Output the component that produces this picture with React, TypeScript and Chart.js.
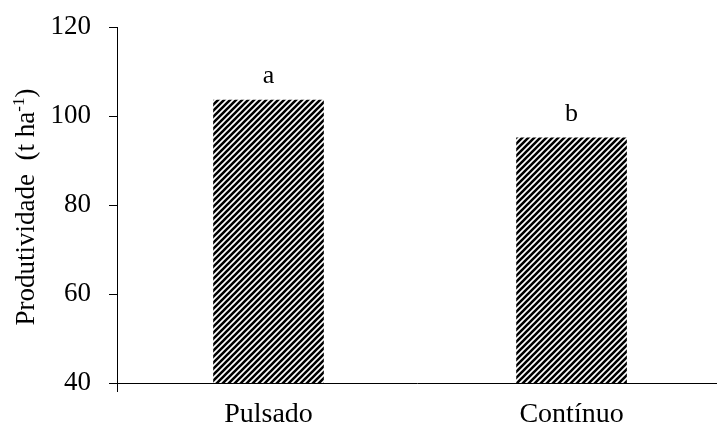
import React, { useEffect, useRef } from "react";
import { Chart, registerables } from "chart.js";

Chart.register(...registerables);

const categories = ["Pulsado", "Contínuo"];
const values = [103.6, 95.1];
const letters = ["a", "b"];
const yMin = 40;
const yMax = 120;
const yStep = 20;
const yTitleMain = "Produtividade  (t ha";
const yTitleSup = "-1";
const yTitleEnd = ")";

const FONT = "'Liberation Serif', 'Times New Roman', serif";

function makePattern(): CanvasPattern | string {
  const s = 6;
  const c = document.createElement("canvas");
  c.width = s;
  c.height = s;
  const ctx = c.getContext("2d");
  if (!ctx) return "#000";
  ctx.fillStyle = "#fff";
  ctx.fillRect(0, 0, s, s);
  ctx.strokeStyle = "#000";
  ctx.lineWidth = 2.6;
  ctx.beginPath();
  ctx.moveTo(0, s);
  ctx.lineTo(s, 0);
  ctx.moveTo(-s / 2, s / 2);
  ctx.lineTo(s / 2, -s / 2);
  ctx.moveTo(s / 2, s + s / 2);
  ctx.lineTo(s + s / 2, s / 2);
  ctx.stroke();
  const p = ctx.createPattern(c, "repeat");
  return p || "#000";
}

export default function App() {
  const ref = useRef<HTMLCanvasElement | null>(null);

  useEffect(() => {
    if (!ref.current) return;
    const pattern = makePattern();

    const extras = {
      id: "extras",
      afterDraw(chart: any) {
        const { ctx, chartArea } = chart;
        ctx.save();
        // y-axis extension below x-axis
        ctx.strokeStyle = "#000";
        ctx.lineWidth = 1;
        ctx.beginPath();
        ctx.moveTo(chartArea.left + 0.5, chartArea.bottom);
        ctx.lineTo(chartArea.left + 0.5, chartArea.bottom + 9);
        ctx.stroke();

        // significance letters
        const meta = chart.getDatasetMeta(0);
        ctx.fillStyle = "#000";
        ctx.font = `26px ${FONT}`;
        ctx.textAlign = "center";
        ctx.textBaseline = "alphabetic";
        meta.data.forEach((bar: any, i: number) => {
          ctx.fillText(letters[i], bar.x, bar.y - 17);
        });

        // y title with superscript
        const cy = (chartArea.top + chartArea.bottom) / 2 + 2;
        ctx.translate(34, cy);
        ctx.rotate(-Math.PI / 2);
        const mainFont = `27px ${FONT}`;
        const supFont = `17px ${FONT}`;
        ctx.font = mainFont;
        const w1 = ctx.measureText(yTitleMain).width;
        const w3 = ctx.measureText(yTitleEnd).width;
        ctx.font = supFont;
        const w2 = ctx.measureText(yTitleSup).width;
        let x = -(w1 + w2 + w3) / 2;
        ctx.textAlign = "left";
        ctx.font = mainFont;
        ctx.fillText(yTitleMain, x, 0);
        x += w1;
        ctx.font = supFont;
        ctx.fillText(yTitleSup, x, -10);
        x += w2;
        ctx.font = mainFont;
        ctx.fillText(yTitleEnd, x, 0);
        ctx.restore();
      },
    };

    const chart = new Chart(ref.current, {
      type: "bar",
      data: {
        datasets: [
          {
            data: categories.map((_, i) => ({ x: i, y: values[i] })),
            backgroundColor: pattern as any,
            borderWidth: 0,
            barThickness: 110,
          },
        ],
      },
      options: {
        responsive: false,
        animation: false,
        layout: { padding: { top: 27, left: 0, right: 0, bottom: 0 } },
        plugins: {
          legend: { display: false },
          tooltip: { enabled: false },
        },
        scales: {
          x: {
            type: "linear",
            offset: false,
            min: -0.5,
            max: 1.48,
            grid: { display: false, drawTicks: false, offset: false },
            border: { display: true, color: "#000", width: 1 },
            ticks: {
              autoSkip: false,
              maxRotation: 0,
              color: "#000",
              font: { family: FONT, size: 28 },
              padding: 15,
              callback: (v: any) => categories[v as number] ?? "",
            },
            afterBuildTicks: (s: any) => {
              s.ticks = categories.map((_, i) => ({ value: i }));
            },
            afterFit: (s: any) => {
              s.height = 45;
              s.paddingLeft = 0;
              s.paddingRight = 0;
            },
          },
          y: {
            min: yMin,
            max: yMax,
            grid: {
              drawOnChartArea: false,
              drawTicks: true,
              tickLength: 8,
              color: "#000",
            },
            border: { display: true, color: "#000", width: 1 },
            ticks: {
              stepSize: yStep,
              color: "#000",
              font: { family: FONT, size: 27 },
              padding: 18,
            },
            afterFit: (s: any) => {
              s.width = 117;
              s.paddingTop = 0;
              s.paddingBottom = 0;
            },
          },
        },
      },
      plugins: [extras],
    });
    return () => chart.destroy();
  }, []);

  return (
    <canvas
      ref={ref}
      width={717}
      height={428}
      style={{ position: "fixed", left: 0, top: 0, display: "block" }}
    />
  );
}
